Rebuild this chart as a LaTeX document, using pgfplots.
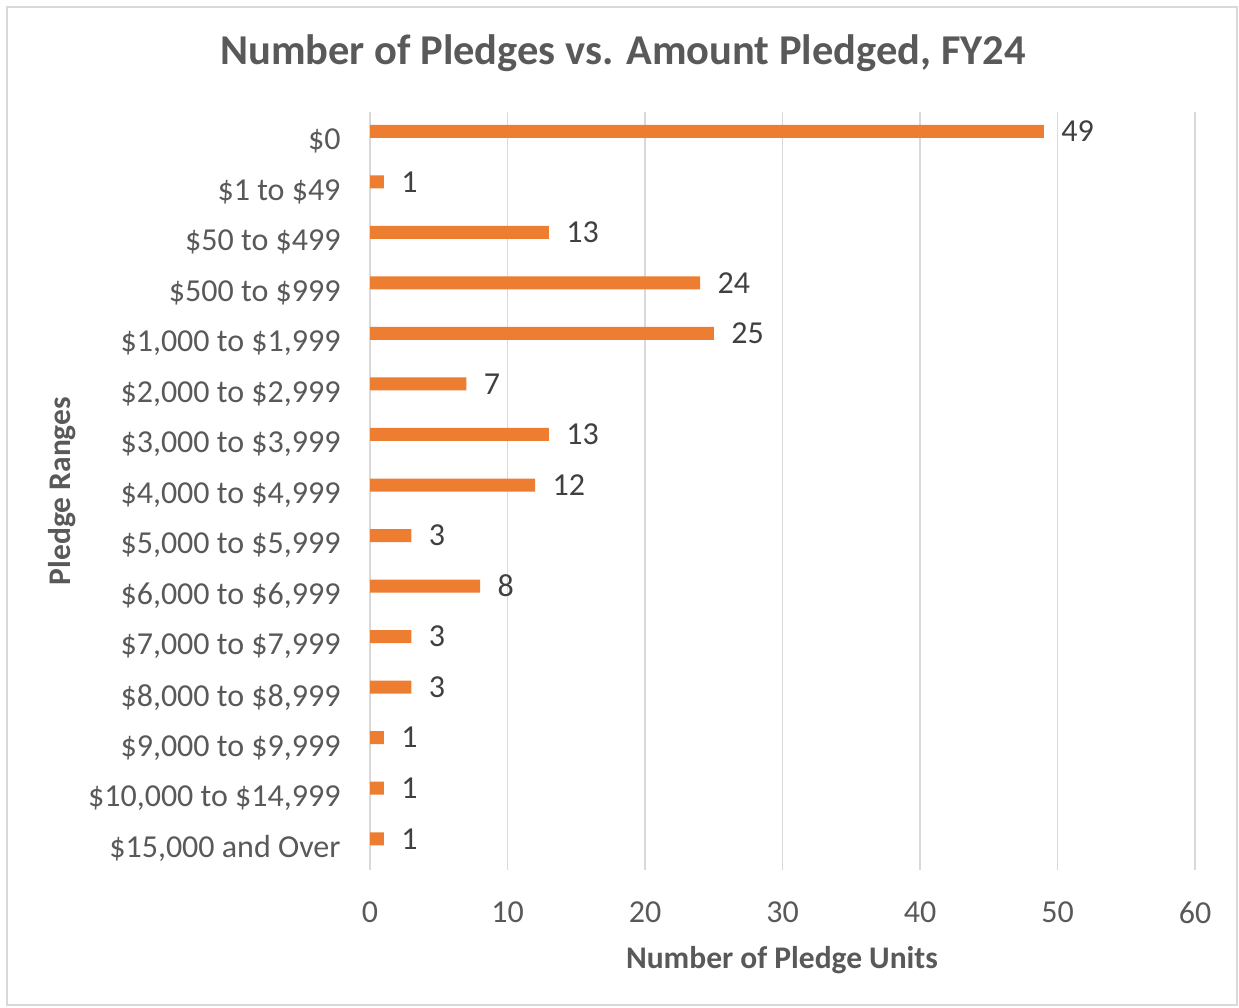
\documentclass[border=0pt]{standalone}
\usepackage{pgfplots}
\pgfplotsset{compat=1.18}
\usepackage{fontspec}
\setmainfont{Carlito}
\definecolor{barorange}{HTML}{ED7D31}
\definecolor{gridgray}{HTML}{D9D9D9}
\definecolor{txtgray}{HTML}{595959}
\definecolor{lblgray}{HTML}{404040}
\begin{document}
\begin{tikzpicture}[x=1pt,y=1pt]
\useasboundingbox (0,0) rectangle (1239,-1007);
\draw[gridgray, line width=1.5pt] (7,-7) rectangle (1237,-1005);
\begin{axis}[
  at={(370pt,-870pt)}, anchor=south west, scale only axis,
  width=825pt, height=758pt,
  xbar, bar width=13pt, bar shift=6pt,
  xmin=0, xmax=60, xtick={0,10,...,60},
  ymin=-0.5, ymax=14.5, y dir=reverse,
  ytick={0,...,14},
  yticklabels={{\$0},{\$1 to \$49},{\$50 to \$499},{\$500 to \$999},{\$1,000 to \$1,999},{\$2,000 to \$2,999},{\$3,000 to \$3,999},{\$4,000 to \$4,999},{\$5,000 to \$5,999},{\$6,000 to \$6,999},{\$7,000 to \$7,999},{\$8,000 to \$8,999},{\$9,000 to \$9,999},{\$10,000 to \$14,999},{\$15,000 and Over}},
  xmajorgrids, major grid style={gridgray, line width=1.5pt},
  axis line style={draw=none},
  major tick length=0pt,
  tick label style={font=\fontsize{32}{38}\selectfont, text=txtgray},
  xticklabel style={yshift=-28pt},
  yticklabel style={xshift=-26pt, yshift=-4pt},
  /pgf/number format/assume math mode=true,
  nodes near coords,
  nodes near coords style={font=\fontsize{32}{38}\selectfont, text=lblgray, anchor=west, xshift=14pt},
]
\addplot[fill=barorange, draw=none] coordinates {
(49,0) (1,1) (13,2) (24,3) (25,4) (7,5) (13,6) (12,7) (3,8) (8,9) (3,10) (3,11) (1,12) (1,13) (1,14)
};
\end{axis}
\node[font=\fontsize{42.5}{50}\selectfont\bfseries, text=txtgray] at (623,-53) {Number of Pledges vs. Amount Pledged, FY24};
\node[font=\fontsize{31.5}{38}\selectfont\bfseries, text=txtgray, rotate=90] at (62,-491) {Pledge Ranges};
\node[font=\fontsize{31.5}{38}\selectfont\bfseries, text=txtgray] at (782,-960) {Number of Pledge Units};
\end{tikzpicture}
\end{document}
